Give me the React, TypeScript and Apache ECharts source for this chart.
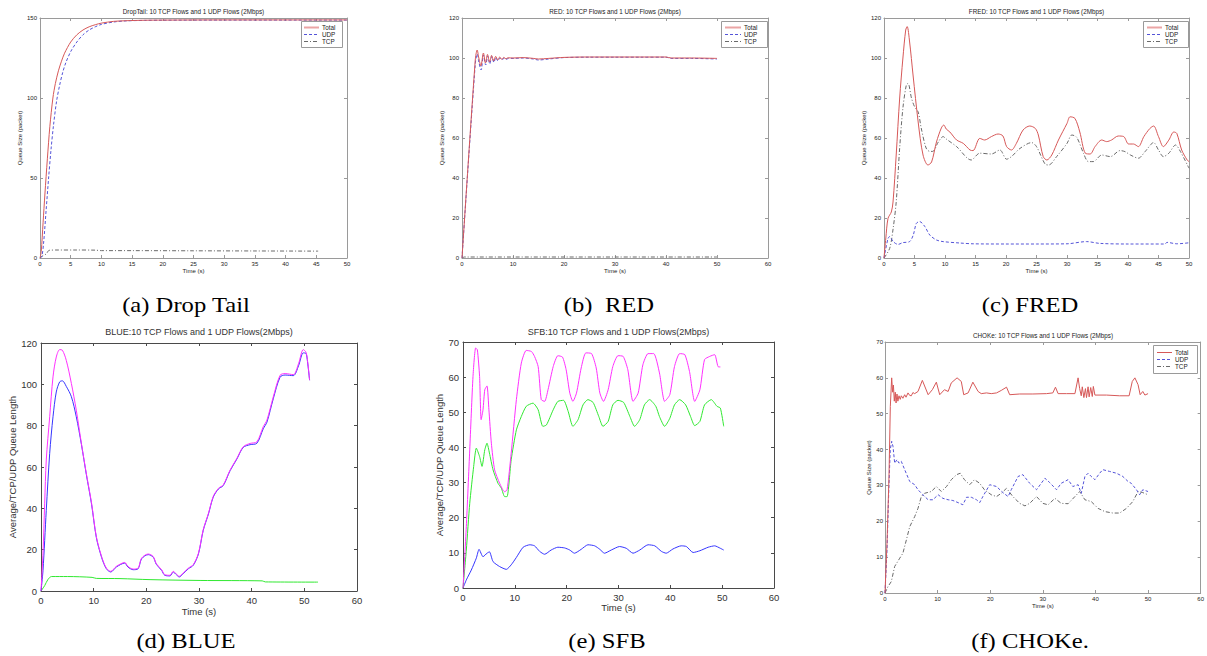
import React, { useEffect, useRef } from 'react';
import * as echarts from 'echarts';

// ---------- (a) Drop Tail ----------
const dropTailTotal = [[0,0],[0.2,4],[0.5,22],[0.8,40],[1.2,62],[1.6,82],[2.1,100],[2.5,109],[3,117],[3.5,123],[4,128],[5,135],[6,139.5],[7,142.5],[8,144.5],[9,145.8],[10,146.8],[12,147.9],[14,148.3],[17,148.6],[20,148.7],[30,148.8],[40,148.8],[50,148.8]];
const dropTailUdp = [[0,0],[0.3,1],[0.6,10],[1,30],[1.4,50],[1.8,68],[2.2,83],[2.7,98],[3.2,108],[3.7,116],[4.2,122],[5,129],[6,135],[7,139.5],[8,142.5],[9,144.5],[10,146],[12,147.5],[14,148.2],[17,148.5],[20,148.6],[30,148.7],[40,148.7],[50,148.7]];
const dropTailTcp = [[0,0],[0.5,1.5],[1,2.5],[1.5,4.8],[3,5],[6,5],[9,4.9],[10,4.6],[15,4.6],[25,4.5],[35,4.4],[45.3,4.3]];

// ---------- (b) RED ----------
const redTotal = [[0,0],[2.6,99],[2.97,104],[3.3,100],[3.7,96],[4.2,102.5],[4.6,97.5],[5.0,101.8],[5.4,98],[5.8,101.3],[6.2,98.5],[6.6,100.8],[7.0,99],[7.4,100.5],[7.8,99.3],[8.2,100.3],[8.6,99.6],[9.0,100.1],[10,100],[12,100.2],[14,99.8],[15,99.5],[17,99.8],[20,100.3],[25,100.5],[30,100.5],[35,100.5],[40,100.5],[41,100],[45,100],[50,99.8]];
const redUdp = [[0,0],[2.6,97],[3.0,102],[3.3,98],[3.75,94],[4.2,101.5],[4.65,96.5],[5.05,101],[5.45,97],[5.85,100.8],[6.25,97.8],[6.65,100.3],[7.05,98.5],[7.45,100],[7.85,99],[8.25,100],[8.65,99.3],[9.1,99.8],[10,99.8],[12,100],[14,99.5],[15,99],[17,99.5],[20,100.2],[25,100.4],[30,100.4],[35,100.4],[40,100.4],[41,99.8],[45,99.8],[50,99.5]];
const redTcp = [[0,0],[0.5,0.5],[10,0.5],[20,0.5],[30,0.5],[40,0.5],[50,0.5]];

// ---------- (c) FRED ----------
const fredTotal = [[0,0],[0.3,10],[0.66,19.8],[1.2,23],[1.48,28],[2.0,51.5],[2.57,80],[3.1,100],[3.56,114],[3.8,115.7],[4.2,108],[4.76,91.5],[5.6,68],[6.4,51.5],[7.2,46.5],[7.8,48],[8.6,58],[9.4,65],[9.8,66.5],[10.2,64.5],[10.8,63],[11.9,59],[13,57.3],[14.1,54],[14.6,53.7],[15.7,59.8],[16.5,59],[17.6,60.7],[18.7,62],[19.5,61],[20.1,55.7],[20.9,54],[21.7,57.3],[22.8,64],[23.9,66],[24.8,64.8],[25.3,61.5],[26.1,50.7],[26.7,49],[27.5,51.5],[28.6,59],[30,67.3],[30.5,70.6],[31.3,69.8],[32.1,63],[33,52.4],[33.8,52],[34.6,55.7],[35.7,59],[36.5,58.2],[37.3,59],[38.4,61],[39.3,60.7],[40.1,57],[40.9,57],[41.7,55.7],[42.6,60.7],[43.6,64.8],[44.2,66],[45,60.7],[45.8,55.7],[46.7,59],[47.5,63],[48,62.3],[48.8,54],[49.7,49],[50,48.2]];
const fredTcp = [[0,0],[0.93,4.8],[1.5,14.8],[2.0,28],[2.57,55],[3.1,75],[3.66,86.5],[3.94,87.3],[4.5,80],[5.0,75.7],[5.6,73],[6.1,65],[6.9,55],[7.5,53.3],[8.0,53.3],[8.9,58],[9.7,60.7],[10.2,59.5],[11.9,55.7],[14.3,49],[15.7,52.4],[17.6,52],[19,54],[20.1,49.4],[20.9,50.7],[22.3,54.8],[24.2,57.7],[25,55.7],[26.4,47],[27,46.5],[28.3,50.7],[30,57.3],[30.8,61.5],[31.6,60.3],[32.7,52.4],[33.5,48.2],[34.3,48.2],[35.7,51.5],[37.1,50.7],[38.7,53.7],[39.5,53.2],[40.4,51.5],[41.7,49.9],[42.8,53.2],[44.2,57.7],[45,54],[45.8,50.7],[46.7,52.4],[47.8,56.5],[48.6,53.2],[50,44.9]];
const fredUdp = [[0,0],[0.66,9.8],[0.93,10.7],[1.5,8.2],[2.3,6.8],[3.1,7.7],[4.2,8.2],[4.8,11.5],[5.3,17.3],[5.85,18.2],[6.7,15.7],[7.5,11.5],[8.6,9],[9.7,8.2],[12.4,7.5],[14.6,7.1],[20,7],[25,7],[30,7.1],[33.2,8.2],[35.4,7.3],[40,7],[46,7],[46.4,7.8],[48,7.1],[50,7.6]];

// ---------- (d) BLUE ----------
const blueAvg = [[0,0],[0.38,18.3],[0.7,42.5],[1.0,63.4],[1.65,84.3],[2.28,103.6],[2.9,113.2],[3.55,116.8],[4.06,116.5],[4.8,111.6],[5.77,100.4],[6.7,87.5],[7.67,71.4],[8.6,57],[9.6,42.5],[10.5,26.4],[11.5,16.7],[12.4,11.1],[13.25,9.5],[14.3,11.9],[15.9,13.8],[16.5,11.9],[17.5,10.6],[18.45,11.1],[19.1,15.9],[20.35,17.9],[21.3,16.7],[21.9,13.2],[22.9,10.3],[23.5,7.9],[24.5,7.6],[25.1,9.5],[25.7,8.2],[26.25,7.1],[27,8.7],[28,11.1],[28.9,12.7],[29.9,18.3],[30.8,29.6],[31.8,37.6],[32.7,45.7],[33.7,49.7],[34.6,51.3],[35.9,58.5],[37.2,64.2],[38.4,69.8],[39.7,71.4],[41,72.2],[42.2,79.5],[42.9,82.7],[44.1,93.9],[45.4,104.4],[46.35,105.2],[47.9,104.7],[48.9,110],[49.8,116.8],[50.3,115.6],[50.6,111.6],[51,102]];
const blueUdp = [[0,0],[0.38,10],[1.0,39],[1.65,66.6],[2.28,84.3],[2.9,96.3],[3.55,101.2],[4.06,101.7],[4.8,99],[5.77,94],[6.7,84.3],[7.67,71],[8.6,56.5],[9.6,42],[10.5,26],[11.5,16.3],[12.4,10.8],[13.25,9.2],[14.3,11.6],[15.9,13.5],[16.5,11.6],[17.5,10.3],[18.45,10.8],[19.1,15.6],[20.35,17.6],[21.3,16.4],[21.9,12.9],[22.9,10],[23.5,7.6],[24.5,7.3],[25.1,9.2],[25.7,7.9],[26.25,6.8],[27,8.4],[28,10.8],[28.9,12.4],[29.9,18],[30.8,29.3],[31.8,37.3],[32.7,45.4],[33.7,49.4],[34.6,51],[35.9,58.2],[37.2,63.9],[38.4,69.5],[39.7,70.8],[41,71.5],[42.2,78.5],[42.9,81.7],[44.1,93],[45.4,103.5],[46.35,104.5],[47.9,104.2],[48.9,109],[49.8,115.2],[50.3,115],[50.6,111],[51,102]];
const blueTcp = [[0,0],[0.7,2.6],[1.3,5.5],[2.0,7],[5,7],[9.7,6.6],[10.5,6.1],[15,6],[20.7,5.5],[30.2,5.1],[42,4.9],[42.6,4.4],[52.6,4.3]];

// ---------- (e) SFB ----------
const sfbAvg = [[0,0],[0.64,17.5],[1.3,39.3],[1.93,60.2],[2.44,68.3],[2.77,67.8],[3.2,60.2],[3.5,47.9],[3.86,50.7],[4.2,56.4],[4.63,57.5],[5,50.7],[5.47,41.2],[6.1,33.6],[7.07,29.8],[8.0,27.4],[8.5,27.9],[9.3,38.4],[10.3,53.6],[11.25,64],[12.2,67.6],[13.2,67.3],[13.8,65.9],[14.5,63],[15.1,53.6],[15.75,53.1],[16.4,56.4],[17.4,63],[18.3,66.1],[19.2,65.7],[19.9,62.1],[20.6,55.5],[21.2,53.1],[21.9,55.5],[22.8,62.6],[23.7,66.9],[24.8,66.7],[25.7,62.6],[26.4,55.5],[27.1,53.1],[28,56.4],[28.9,63],[29.9,66.1],[30.9,65.9],[31.8,62.1],[32.8,53.1],[33.8,55.5],[34.7,63.5],[35.7,66.7],[36.8,66.7],[37.9,61.2],[38.9,53.1],[39.9,55],[40.8,63],[41.8,66.7],[42.8,66.4],[43.7,61.6],[44.7,53.1],[45.7,56.4],[46.6,65],[47.6,65.9],[48.55,66.4],[49.2,63],[49.65,62.9]];
const sfbTcp = [[0,0],[0.64,10.8],[1.3,24.1],[2.06,34.6],[2.57,39.8],[3.2,37.4],[3.67,34.6],[4.2,39.3],[4.63,41.2],[5.1,38.4],[5.8,33.6],[6.75,29.8],[7.4,28.4],[8.04,26],[8.5,26],[9.3,36.5],[10.3,45],[11.25,48.8],[12.2,51.7],[13.5,52.6],[14.5,50.7],[15.4,46],[16.1,46.4],[17.4,50.7],[18.3,53.1],[19.4,53.4],[20.3,50.2],[21.2,46],[22.2,47.9],[23.15,52.1],[24.1,53.6],[25.1,52.8],[26.2,48.8],[27,46],[28,47.4],[28.9,52.1],[29.9,53.4],[31,52.8],[32.2,48.8],[33.1,46],[34.1,47.9],[35,52.1],[36,53.6],[37.2,51.7],[37.9,48.8],[38.9,46],[39.9,48.3],[40.8,52.1],[41.8,53.6],[42.96,52.1],[43.9,48.8],[44.7,46.2],[45.7,47.4],[46.6,52.1],[47.9,53.6],[49,51.7],[49.65,51.2],[50.3,46]];
const sfbUdp = [[0,0],[0.64,2.3],[1.6,5.1],[2.57,8.5],[3.1,11],[3.86,8.9],[4.63,9.9],[5.1,10.3],[5.8,7.5],[7.07,6.1],[8.36,5.3],[9.3,6.6],[10.3,8.7],[11.6,11.6],[12.9,12.3],[13.8,12],[14.8,10.4],[15.75,9.6],[17,10.8],[18.3,11.6],[19.6,11.4],[20.6,10.8],[21.5,9.9],[22.8,11],[24.1,12.3],[25.4,12],[26.4,11],[27.3,9.9],[28.6,10.8],[30.2,11.8],[31.5,11.3],[32.8,9.9],[34.1,10.8],[35.7,12.3],[37,12],[38.3,10.4],[39.2,9.9],[40.5,11.1],[42.1,12],[43.1,11.8],[44.4,10.1],[45.7,10.6],[47.3,11.6],[48.55,12],[49.65,11.3],[50.3,10.8]];

// ---------- (f) CHOKe ----------
const chokeTotal = [[0,0],[0.38,13.9],[0.76,32.5],[1.01,52],[1.27,60],[1.45,56],[1.6,58],[1.77,53.5],[1.95,56],[2.1,53],[2.28,55.5],[2.45,53.5],[2.66,55],[2.9,54],[3.1,55],[3.4,54.3],[3.74,55.3],[4.0,54.6],[4.37,55.8],[4.7,55.1],[5,55],[5.3,55.9],[5.64,55.6],[6.27,56.2],[7.1,59.3],[8.2,55.3],[9,56.7],[9.76,58.8],[10.4,55.3],[11.3,56.7],[12,56.2],[12.6,58.6],[13.7,60],[14.5,59],[14.96,55.3],[15.8,55.8],[16.7,58.8],[17.7,56.2],[18.3,55.6],[19.3,55.8],[20.2,55.6],[21.2,55.8],[22.1,56.5],[23.1,57.4],[23.7,55.3],[25.6,55.5],[28.1,55.5],[30.7,55.6],[31.9,55.8],[32.4,57.4],[32.9,55.6],[34.5,55.6],[36.1,55.6],[36.7,60],[37,57],[37.3,55],[37.5,57.5],[37.8,54.5],[38.1,57],[38.3,54.5],[38.6,57.5],[38.8,54.7],[39.1,57.3],[39.4,54.8],[39.6,57.6],[39.9,55.2],[42.1,55.2],[44.6,55],[46.4,55],[47,59],[47.5,60],[48.1,58.1],[48.5,55.3],[49,56.2],[49.4,55.2],[50,55.6]];
const chokeUdp = [[0,0],[0.38,12],[0.76,30.6],[1.0,40],[1.27,42.3],[1.52,40.9],[1.84,36.2],[2.28,37.2],[2.66,36.2],[3.1,36.7],[3.74,34.4],[4.7,31.1],[5.64,30.2],[6.27,28.8],[7.2,27.4],[8.2,26],[9.1,26],[10.1,27.4],[11,26.4],[12,26],[12.9,25.8],[13.9,25.2],[14.8,24.6],[15.5,26.7],[16.4,26.7],[17.4,26],[18,25.2],[18.6,26.9],[19.9,30.2],[21.2,29.7],[22.4,28],[23.4,26.9],[24,28.8],[25.3,32.5],[26.2,33],[27.5,30.6],[28.8,28.8],[30.4,32],[31.3,30.8],[32.6,28.8],[33.5,30.6],[34.8,31.6],[35.7,29.7],[36.7,30.2],[37.3,27.8],[38,32.5],[38.6,33.4],[39.2,32.5],[39.9,31.6],[40.8,33.4],[41.4,34.4],[42.7,33.9],[44,33.4],[45.2,32.5],[46.2,31.1],[46.8,30.6],[47.8,28.8],[48.4,27.4],[49,28.8],[50,28.3]];
const chokeTcp = [[0,0],[0.57,1.8],[1.2,3.2],[1.84,7.4],[2.8,9.7],[3.4,11.1],[4.06,14.8],[4.7,18.5],[5.64,21.3],[6.27,23.6],[6.9,26.9],[7.5,27.8],[8.8,28.3],[9.76,29.7],[10.7,28.3],[11.7,29.7],[12.6,31.6],[13.6,33],[14.3,33.4],[15.1,31.6],[16.1,30.2],[17,31.6],[18,30.6],[18.9,28.8],[20.2,27.4],[21.2,26.9],[22.1,27.8],[23.1,29.2],[24.3,26.9],[25.6,25],[26.6,24.3],[27.5,25],[28.8,26.9],[30,25],[31,24.6],[32.3,26.4],[33.5,25],[34.8,24.9],[36.1,26.9],[37,28.3],[38,26],[39.2,25.5],[40.5,23.6],[41.8,22.7],[43.3,22.3],[44.6,22.3],[45.9,23.6],[47.1,25.5],[48.1,28.3],[49,28],[50,27.4]];

const captions = ['(a) Drop Tail', '(b)  RED', '(c) FRED', '(d) BLUE', '(e) SFB', '(f) CHOKe.'];
const legendLabels = ['Total', 'UDP', 'TCP'];

const SANS = '"Liberation Sans", Arial, Helvetica, sans-serif';
const SERIF = '"Liberation Serif", "Times New Roman", serif';

const C_RED = '#d65858';
const C_BLUE = '#5454d8';
const C_GREY = '#6a6a6a';
const C_MAG = '#ff30ff';
const C_BLU = '#3535ff';
const C_GRN = '#30e830';
const DASH = [3, 2];
const DASHDOT = [4, 2, 1, 2];

type S = { name: string; data: number[][]; color: string; dash?: number[]; width?: number };
type Panel = {
  left: number; top: number; width: number; height: number;
  xMax: number; xInt: number; yMax: number; yInt: number;
  tickFs: number; nameFs: number; titleFs: number;
  frame: string; text: string; title: string; titleY: number;
  yName: string; yGap: number; xGap: number; yLabM: number; xLabM: number;
  smooth: number | boolean; series: S[];
  caption: [number, number];
  legend?: { x0: number; y0: number; x1: number; y1: number; rows: number[]; lx0: number; lx1: number; tx: number; totalColor: string; totalWidth: number };
};

const topTrio = (total: number[][], udp: number[][], tcp: number[][]): S[] => [
  { name: 'Total', data: total, color: C_RED },
  { name: 'UDP', data: udp, color: C_BLUE, dash: DASH },
  { name: 'TCP', data: tcp, color: C_GREY, dash: DASHDOT },
];

const small = { tickFs: 6, nameFs: 6, titleFs: 6.3, frame: '#9a9a9a', text: '#222', yLabM: 3, xLabM: 3 };
const big = { tickFs: 9.5, nameFs: 9.5, titleFs: 9, frame: '#4a4a4a', text: '#333', yLabM: 4, xLabM: 4 };

const panels: Panel[] = [
  { ...small, left: 40, top: 18, width: 307, height: 240, xMax: 50, xInt: 5, yMax: 150, yInt: 50,
    title: 'DropTail: 10 TCP Flows and 1 UDP Flows (2Mbps)', titleY: 11, yName: 'Queue Size (packet)', yGap: 14, xGap: 10,
    smooth: 0.3, series: topTrio(dropTailTotal, dropTailUdp, dropTailTcp), caption: [186, 304],
    legend: { x0: 301, y0: 21, x1: 342, y1: 47, rows: [27, 34, 41], lx0: 304, lx1: 319, tx: 322, totalColor: '#eba5a5', totalWidth: 2 } },
  { ...small, left: 462, top: 18, width: 306, height: 240, xMax: 60, xInt: 10, yMax: 120, yInt: 20,
    title: 'RED: 10 TCP Flows and 1 UDP Flows (2Mbps)', titleY: 11, yName: 'Queue Size (packet)', yGap: 14, xGap: 10,
    smooth: 0.3, series: topTrio(redTotal, redUdp, redTcp), caption: [609, 304],
    legend: { x0: 721, y0: 21, x1: 767, y1: 47, rows: [27, 34, 41], lx0: 725, lx1: 741, tx: 744, totalColor: '#eba5a5', totalWidth: 2 } },
  { ...small, left: 884, top: 18, width: 305, height: 240, xMax: 50, xInt: 5, yMax: 120, yInt: 20,
    title: 'FRED: 10 TCP Flows and 1 UDP Flows (2Mbps)', titleY: 11, yName: 'Queue Size (packet)', yGap: 14, xGap: 10,
    smooth: 0.3, series: topTrio(fredTotal, fredUdp, fredTcp), caption: [1030, 304],
    legend: { x0: 1143, y0: 21, x1: 1188, y1: 47, rows: [27, 34, 41], lx0: 1147, lx1: 1162, tx: 1165, totalColor: '#eba5a5', totalWidth: 2 } },
  { ...big, left: 41, top: 343, width: 316, height: 248, xMax: 60, xInt: 10, yMax: 120, yInt: 20,
    title: 'BLUE:10 TCP Flows and 1 UDP Flows(2Mbps)', titleY: 332, yName: 'Average/TCP/UDP Queue Length', yGap: 22, xGap: 15,
    smooth: 0.3, caption: [186, 640],
    series: [
      { name: 'Average', data: blueAvg, color: C_MAG },
      { name: 'UDP', data: blueUdp, color: C_BLU },
      { name: 'TCP', data: blueTcp, color: C_GRN },
    ] },
  { ...big, left: 463, top: 342, width: 311, height: 246, xMax: 60, xInt: 10, yMax: 70, yInt: 10,
    title: 'SFB:10 TCP Flows and 1 UDP Flows(2Mbps)', titleY: 332, yName: 'Average/TCP/UDP Queue Length', yGap: 16, xGap: 14,
    smooth: 0.2, caption: [607, 640],
    series: [
      { name: 'Average', data: sfbAvg, color: C_MAG },
      { name: 'TCP', data: sfbTcp, color: C_GRN },
      { name: 'UDP', data: sfbUdp, color: C_BLU },
    ] },
  { ...small, left: 885, top: 342, width: 316, height: 251, xMax: 60, xInt: 10, yMax: 70, yInt: 10, xLabM: 3, yLabM: 2,
    title: 'CHOKe: 10 TCP Flows and 1 UDP Flows (2Mbps)', titleY: 335, yName: 'Queue Size (packet)', yGap: 12, xGap: 10,
    smooth: false, series: topTrio(chokeTotal, chokeUdp, chokeTcp), caption: [1030, 640],
    legend: { x0: 1153, y0: 345, x1: 1197, y1: 373, rows: [352, 359, 366], lx0: 1157, lx1: 1172, tx: 1175, totalColor: C_RED, totalWidth: 1 } },
];

export default function App() {
  const ref = useRef<HTMLDivElement>(null);
  useEffect(() => {
    if (!ref.current) return;
    const chart = echarts.init(ref.current, null, { renderer: 'svg' });
    const grid: any[] = [];
    const xAxis: any[] = [];
    const yAxis: any[] = [];
    const series: any[] = [];
    const graphic: any[] = [];

    const axisCommon = (p: Panel) => ({
      axisLine: { show: true, onZero: false, lineStyle: { color: p.frame, width: 1 } },
      axisTick: { show: true, inside: true, length: 3, lineStyle: { color: p.frame, width: 1 } },
      splitLine: { show: false },
    });

    panels.forEach((p) => {
      grid.push({ left: p.left, top: p.top, width: p.width, height: p.height, containLabel: false });
    });
    panels.forEach((p, i) => {
      xAxis.push({
        type: 'value', gridIndex: i, position: 'bottom', min: 0, max: p.xMax, interval: p.xInt,
        ...axisCommon(p),
        axisLabel: { show: true, fontSize: p.tickFs, color: p.text, margin: p.xLabM, fontFamily: SANS },
        name: 'Time (s)', nameLocation: 'middle', nameGap: p.xGap,
        nameTextStyle: { fontSize: p.nameFs, color: p.text, fontFamily: SANS },
      });
      yAxis.push({
        type: 'value', gridIndex: i, position: 'left', min: 0, max: p.yMax, interval: p.yInt,
        ...axisCommon(p),
        axisLabel: { show: true, fontSize: p.tickFs, color: p.text, margin: p.yLabM, fontFamily: SANS },
        name: p.yName, nameLocation: 'middle', nameGap: p.yGap,
        nameTextStyle: { fontSize: p.nameFs, color: p.text, fontFamily: SANS },
      });
    });
    panels.forEach((p, i) => {
      xAxis.push({
        type: 'value', gridIndex: i, position: 'top', min: 0, max: p.xMax, interval: p.xInt,
        ...axisCommon(p), axisLabel: { show: false },
      });
      yAxis.push({
        type: 'value', gridIndex: i, position: 'right', min: 0, max: p.yMax, interval: p.yInt,
        ...axisCommon(p), axisLabel: { show: false },
      });
    });

    panels.forEach((p, i) => {
      p.series.forEach((s, k) => {
        series.push({
          type: 'line', name: s.name, xAxisIndex: i, yAxisIndex: i, data: s.data,
          showSymbol: false, symbol: 'none', smooth: p.smooth, silent: true, clip: true,
          z: 3 + (p.series.length - k),
          lineStyle: { color: s.color, width: s.width ?? 1, type: s.dash ?? 'solid' },
          itemStyle: { color: s.color },
        });
      });
      graphic.push({
        type: 'text', x: p.left + p.width / 2, y: p.titleY, z: 50,
        style: { text: p.title, fontSize: p.titleFs, fontFamily: SANS, fill: p.text,
          textAlign: 'center', textVerticalAlign: 'middle', align: 'center', verticalAlign: 'middle' },
      });
      graphic.push({
        type: 'text', x: p.caption[0], y: p.caption[1], z: 50, scaleX: 1.12, scaleY: 1,
        style: { text: captions[i], fontSize: 22, fontFamily: SERIF, fill: '#000',
          textAlign: 'center', textVerticalAlign: 'middle', align: 'center', verticalAlign: 'middle' },
      });
      if (p.legend) {
        const L = p.legend;
        graphic.push({
          type: 'rect', z: 60, shape: { x: L.x0 + 0.5, y: L.y0 + 0.5, width: L.x1 - L.x0, height: L.y1 - L.y0 },
          style: { fill: '#fff', stroke: p.frame, lineWidth: 1 },
        });
        const styles = [
          { color: L.totalColor, width: L.totalWidth, dash: null as any },
          { color: C_BLUE, width: 1, dash: DASH },
          { color: C_GREY, width: 1, dash: DASHDOT },
        ];
        L.rows.forEach((ry, r) => {
          graphic.push({
            type: 'line', z: 61, shape: { x1: L.lx0, y1: ry + 0.5, x2: L.lx1, y2: ry + 0.5 },
            style: { stroke: styles[r].color, lineWidth: styles[r].width, lineDash: styles[r].dash },
          });
          graphic.push({
            type: 'text', x: L.tx, y: ry + 0.5, z: 61,
            style: { text: legendLabels[r], fontSize: 6.3, fontFamily: SANS, fill: '#222',
              textAlign: 'left', textVerticalAlign: 'middle', align: 'left', verticalAlign: 'middle' },
          });
        });
      }
    });

    chart.setOption({
      animation: false,
      backgroundColor: '#fff',
      grid, xAxis, yAxis, series, graphic,
    });
    return () => chart.dispose();
  }, []);
  return <div ref={ref} style={{ position: 'absolute', left: 0, top: 0, width: 1207, height: 656, background: '#fff' }} />;
}
